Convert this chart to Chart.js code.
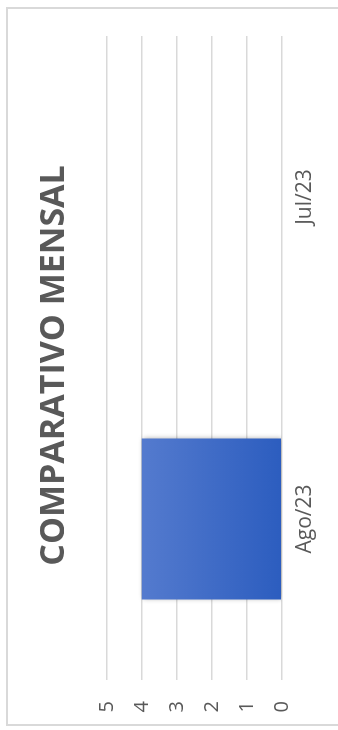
<!DOCTYPE html>
<html>
<head>
<meta charset="utf-8">
<script src="https://cdn.jsdelivr.net/npm/chart.js@4/dist/chart.umd.min.js"></script>
<style>
    html, body { margin: 0; padding: 0; background: #fff; width: 338px; height: 730px; overflow: hidden; }
    .frame { position: absolute; left: 6px; top: 7px; width: 400px; height: 719px; border: 2px solid #d9d9d9; box-sizing: border-box; }
    /* chart is laid out 730x338 and turned a quarter turn counter-clockwise */
    .wrap { position: absolute; left: 0; top: 0; width: 730px; height: 338px;
            transform-origin: 0 0; transform: translate(0, 730px) rotate(-90deg); }
</style>
</head>
<body>
<div class="frame"></div>
<div class="wrap"><canvas id="chart" width="730" height="338"></canvas></div>
<script>
const months = ['Ago/23', 'Jul/23'];
const values = [4, 0];
const yTicks = [0, 1, 2, 3, 4, 5];

const barShadow = {
    id: 'barShadow',
    beforeDatasetsDraw(chart) {
        const ctx = chart.ctx;
        ctx.save();
        ctx.shadowColor = 'rgba(0, 0, 0, 0.35)';
        ctx.shadowBlur = 5;
        ctx.shadowOffsetX = 0;
        ctx.shadowOffsetY = 1;
    },
    afterDatasetsDraw(chart) {
        chart.ctx.restore();
    }
};

// title sits centred on the whole frame, not on the padded area
const titleShift = {
    id: 'titleShift',
    afterLayout(chart) {
        const t = chart.titleBlock;
        if (t) { t.left += 9; t.right += 9; }
    }
};

function barGradient(context) {
    const area = context.chart.chartArea;
    if (!area) return '#4472c4';
    const g = context.chart.ctx.createLinearGradient(0, area.top, 0, area.bottom);
    g.addColorStop(0, '#5e82d2');
    g.addColorStop(1, '#2c5dbf');
    return g;
}

new Chart(document.getElementById('chart'), {
    type: 'bar',
    data: {
        labels: months,
        datasets: [{
            data: values,
            backgroundColor: barGradient,
            borderWidth: 0,
            categoryPercentage: 1,
            barPercentage: 0.5
        }]
    },
    options: {
        responsive: false,
        animation: false,
        layout: { padding: { top: 0, left: 17, right: 36, bottom: 9 } },
        plugins: {
            legend: { display: false },
            tooltip: { enabled: false },
            title: {
                display: true,
                text: 'COMPARATIVO MENSAL',
                color: '#595959',
                font: { family: 'Open Sans', size: 34, weight: 'bold' },
                padding: { top: 34, bottom: 32 }
            }
        },
        scales: {
            x: {
                grid: { display: false, drawTicks: false },
                border: { display: false },
                ticks: { color: '#595959', padding: 11, font: { family: 'Open Sans', size: 21 } }
            },
            y: {
                min: yTicks[0],
                max: yTicks[yTicks.length - 1],
                afterBuildTicks: axis => { axis.ticks = yTicks.map(v => ({ value: v })); },
                afterFit: axis => { axis.width = 33; },
                grid: { color: '#d9d9d9', lineWidth: 1.5, drawTicks: false },
                border: { display: false },
                ticks: { color: '#595959', padding: 21, font: { family: 'Open Sans', size: 20 } }
            }
        }
    },
    plugins: [barShadow, titleShift]
});
</script>
</body>
</html>
